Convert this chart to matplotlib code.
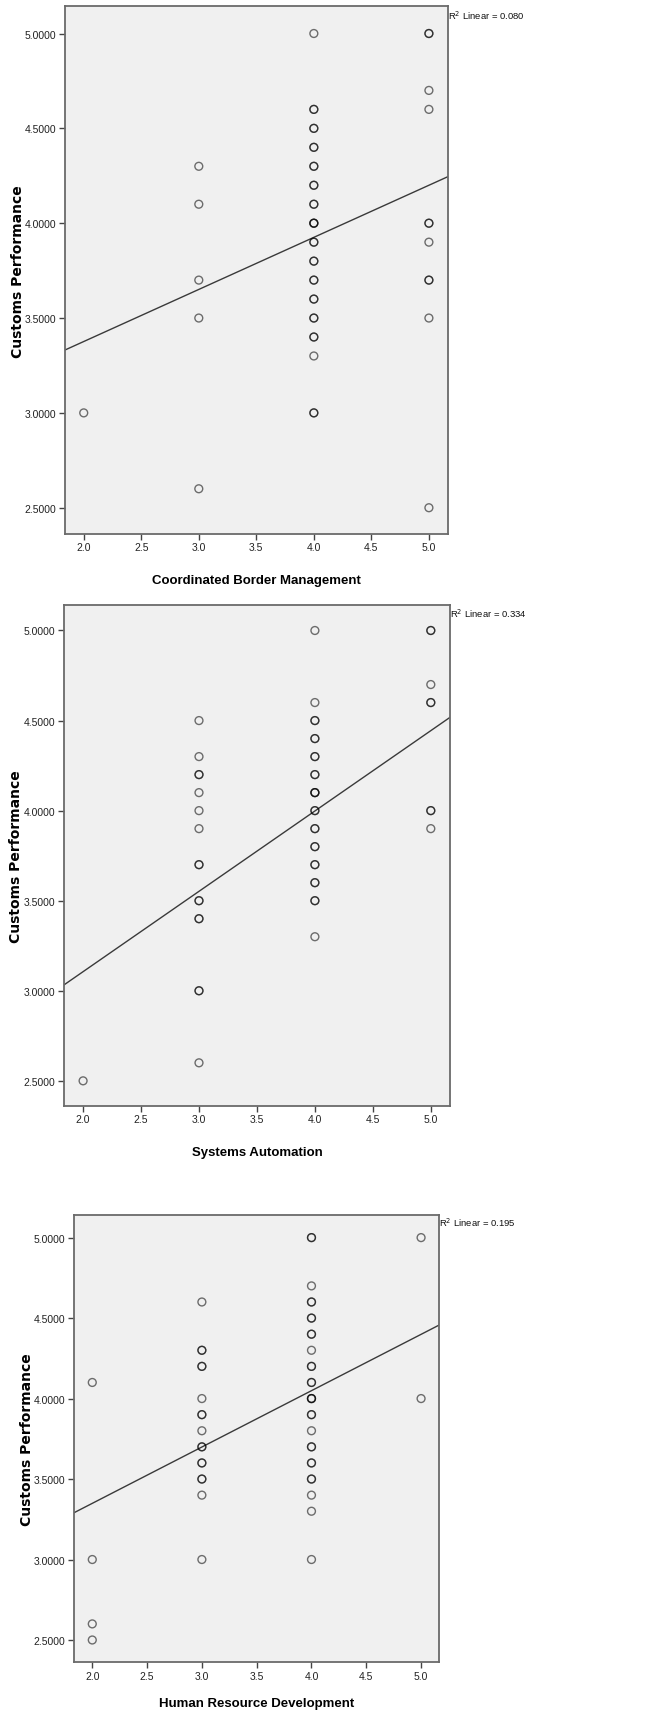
import matplotlib

matplotlib.use("Agg")

import matplotlib.pyplot as plt
from matplotlib import font_manager


X_LEVELS = [2.0, 3.0, 4.0, 5.0]
X_TICKS = [2.0, 2.5, 3.0, 3.5, 4.0, 4.5, 5.0]
Y_TICKS = [2.5, 3.0, 3.5, 4.0, 4.5, 5.0]
Y_LABEL = "Customs Performance"

# Customs Performance values at each predictor level (repeats = overlapping cases)
CBM_Y = [
    [3.0],
    [4.3, 4.1, 3.7, 3.5, 2.6],
    [5.0, 4.6, 4.6, 4.5, 4.5, 4.4, 4.4, 4.3, 4.3, 4.2, 4.2, 4.1, 4.1,
     4.0, 4.0, 4.0, 3.9, 3.9, 3.8, 3.8, 3.7, 3.7, 3.6, 3.6, 3.5, 3.5,
     3.4, 3.4, 3.3, 3.0, 3.0],
    [5.0, 5.0, 4.7, 4.6, 4.0, 4.0, 3.9, 3.7, 3.7, 3.5, 2.5],
]
SA_Y = [
    [2.5],
    [4.5, 4.3, 4.2, 4.2, 4.1, 4.0, 3.9, 3.7, 3.7, 3.5, 3.5, 3.4, 3.4,
     3.0, 3.0, 2.6],
    [5.0, 4.6, 4.5, 4.5, 4.4, 4.4, 4.3, 4.3, 4.2, 4.2, 4.1, 4.1, 4.1,
     4.0, 4.0, 3.9, 3.9, 3.8, 3.8, 3.7, 3.7, 3.6, 3.6, 3.5, 3.5, 3.3],
    [5.0, 5.0, 4.7, 4.6, 4.6, 4.0, 4.0, 3.9],
]
HRD_Y = [
    [4.1, 3.0, 2.6, 2.5],
    [4.6, 4.3, 4.3, 4.2, 4.2, 4.0, 3.9, 3.9, 3.8, 3.7, 3.7, 3.6, 3.6,
     3.5, 3.5, 3.4, 3.0],
    [5.0, 5.0, 4.7, 4.6, 4.6, 4.5, 4.5, 4.4, 4.4, 4.3, 4.2, 4.2, 4.1,
     4.1, 4.0, 4.0, 4.0, 3.9, 3.9, 3.8, 3.7, 3.7, 3.6, 3.6, 3.5, 3.5,
     3.4, 3.3, 3.0],
    [5.0, 4.0],
]

# fit line: (intercept, slope), and R2 shown
CBM_FIT = (2.827, 0.2746)
SA_FIT = (2.214, 0.446)
HRD_FIT = (2.649, 0.350)
R2_TEXT = ["0.080", "0.334", "0.195"]

X_LABELS = [
    "Coordinated Border Management",
    "Systems Automation",
    "Human Resource Development",
]

# axes boxes in figure fractions
BOXES = [
    [0.0982, 0.6881, 0.5837, 0.3076],
    [0.0970, 0.3547, 0.5880, 0.2921],
    [0.1126, 0.0302, 0.5560, 0.2610],
]
# y label x position (figure fraction) and x label pad for each panel
YLABEL_X = [0.027, 0.025, 0.041]
XLABEL_PAD = [16, 16, 12]


def pick_font(names):
    have = {f.name for f in font_manager.fontManager.ttflist}
    for n in names:
        if n in have:
            return n
    return "DejaVu Sans"


NARROW = pick_font(["Liberation Sans Narrow", "Liberation Sans"])


def draw_panel(fig, box, groups, fit, r2, xlabel, ylab_x, xpad):
    ax = fig.add_axes(box)
    xs, ys = [], []
    for lev, vals in zip(X_LEVELS, groups):
        xs += [lev] * len(vals)
        ys += vals

    xlim = (1.833, 5.166)
    ylim = (2.362, 5.143)

    ax.set_facecolor("#f0f0f0")
    ax.scatter(xs, ys, s=32, facecolors="none",
               edgecolors=(0, 0, 0, 0.55), linewidths=1.0, zorder=3)

    b0, b1 = fit
    ax.plot(xlim, [b0 + b1 * xlim[0], b0 + b1 * xlim[1]],
            color="#3a3a3a", lw=1.0, zorder=2)

    ax.set_xlim(*xlim)
    ax.set_ylim(*ylim)
    ax.set_xticks(X_TICKS)
    ax.set_xticklabels([f"{t:.1f}" for t in X_TICKS])
    ax.set_yticks(Y_TICKS)
    ax.set_yticklabels([f"{t:.4f}" for t in Y_TICKS])
    ax.tick_params(axis="both", direction="out", length=4, width=1,
                   color="#444444", labelsize=7.5, labelcolor="#222222",
                   pad=2)
    for lab in ax.get_xticklabels() + ax.get_yticklabels():
        lab.set_fontfamily(NARROW)

    for sp in ax.spines.values():
        sp.set_color("#6a6a6a")
        sp.set_linewidth(1.3)

    ax.set_xlabel(xlabel, fontfamily=NARROW, fontweight="bold",
                  fontsize=9.5, labelpad=xpad)

    yc = box[1] + box[3] / 2
    fig.text(ylab_x, yc, Y_LABEL, rotation=90, ha="center", va="center",
             fontfamily="DejaVu Sans", fontweight="bold", fontsize=10)

    ax.text(1.0, 0.985, f"R$^2$ Linear = {r2}", transform=ax.transAxes,
            ha="left", va="center", fontsize=6.8, fontfamily=NARROW,
            color="#111111")


fig = plt.figure(figsize=(6.57, 17.15), dpi=100)
fig.patch.set_facecolor("white")

panels = [
    (CBM_Y, CBM_FIT),
    (SA_Y, SA_FIT),
    (HRD_Y, HRD_FIT),
]

for i, (groups, fit) in enumerate(panels):
    draw_panel(fig, BOXES[i], groups, fit, R2_TEXT[i], X_LABELS[i],
               YLABEL_X[i], XLABEL_PAD[i])

fig.savefig("out.png", dpi=100)
